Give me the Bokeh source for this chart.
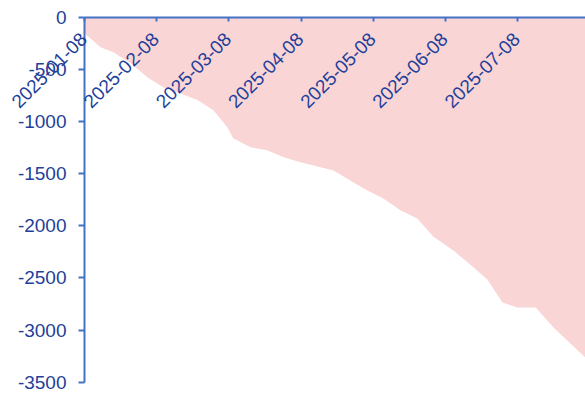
import math
from bokeh.plotting import figure
from bokeh.models import ColumnDataSource, Range1d, FixedTicker, LinearAxis, Label
from bokeh.embed import file_html
from bokeh.resources import INLINE

# Month offsets since 2025-01-08 (x) and cumulative value (y)
month_pos = [0.0, 0.22, 0.40, 0.64, 0.87, 1.09, 1.33, 1.57, 1.79, 1.98, 2.06,
             2.30, 2.53, 2.76, 2.99, 3.23, 3.45, 3.68, 3.92, 4.14, 4.38, 4.61,
             4.83, 5.11, 5.39, 5.58, 5.79, 6.00, 6.25, 6.50, 6.94]
values = [-156, -290, -338, -444, -578, -674, -732, -799, -895, -1058, -1163,
          -1249, -1278, -1345, -1393, -1432, -1470, -1566, -1662, -1739, -1854,
          -1931, -2103, -2238, -2401, -2516, -2737, -2785, -2785, -2977, -3265]

tick_pos = [0, 1, 2, 3, 4, 5, 6]
tick_labels = ["2025-01-08", "2025-02-08", "2025-03-08", "2025-04-08",
               "2025-05-08", "2025-06-08", "2025-07-08"]
y_ticks = [0, -500, -1000, -1500, -2000, -2500, -3000, -3500]
y_min, y_max = -3500, 0

AXIS = "#4472c4"
LABEL = "#1f3f9a"
FONT = "Liberation Sans"

# canvas and margins (pixels) around the axes box
W, H = 585, 393
LEFT_PX, TOP_PX, BOTTOM_PX = 84, 16.5, 11.3
x_span = month_pos[-1] - month_pos[0]
x_start = month_pos[0] - LEFT_PX / (W - LEFT_PX) * x_span
per_px = (y_max - y_min) / (H - TOP_PX - BOTTOM_PX)

p = figure(width=W, height=H, output_backend="svg", toolbar_location=None,
           x_range=Range1d(x_start, month_pos[-1]),
           y_range=Range1d(y_min - BOTTOM_PX * per_px, y_max + TOP_PX * per_px),
           x_axis_location=None, y_axis_location=None)
p.min_border_left = 0
p.min_border_right = 0
p.min_border_top = 0
p.min_border_bottom = 0
p.outline_line_color = None
p.xgrid.visible = False
p.ygrid.visible = False

src = ColumnDataSource(dict(x=month_pos, y=values, zero=[0] * len(values)))
p.varea(x="x", y1="zero", y2="y", source=src, fill_color="#f9d5d6", fill_alpha=1.0)

# top axis at y=0 (line + inward ticks); its labels are drawn below the line
xa = LinearAxis(ticker=FixedTicker(ticks=tick_pos), fixed_location=y_max,
                bounds=(month_pos[0], month_pos[-1]))
xa.major_label_text_color = None
xa.major_label_text_font_size = "1px"
xa.major_label_standoff = 0
xa.major_tick_in = 4
xa.major_tick_out = 0
xa.minor_tick_in = 0
xa.minor_tick_out = 0
xa.axis_line_color = AXIS
xa.axis_line_width = 2
xa.major_tick_line_color = AXIS
xa.major_tick_line_width = 2
p.add_layout(xa, "above")

ya = LinearAxis(ticker=FixedTicker(ticks=y_ticks), fixed_location=month_pos[0],
                bounds=(y_min, y_max))
ya.major_label_overrides = {t: str(t) for t in y_ticks}
ya.major_label_text_font = FONT
ya.major_label_text_font_size = "19px"
ya.major_label_text_color = LABEL
ya.major_label_standoff = 12
ya.major_tick_in = 0
ya.major_tick_out = 6
ya.minor_tick_in = 0
ya.minor_tick_out = 0
ya.axis_line_color = AXIS
ya.axis_line_width = 2
ya.major_tick_line_color = AXIS
ya.major_tick_line_width = 2
p.add_layout(ya, "left")

for xp, txt in zip(tick_pos, tick_labels):
    p.add_layout(Label(x=xp, y=y_max, text=txt, angle=math.pi / 4,
                       text_align="right", text_baseline="middle",
                       x_offset=-1, y_offset=-19, text_font=FONT,
                       text_font_size="19px", text_color=LABEL))

open("out.html", "w").write(file_html(p, INLINE))
